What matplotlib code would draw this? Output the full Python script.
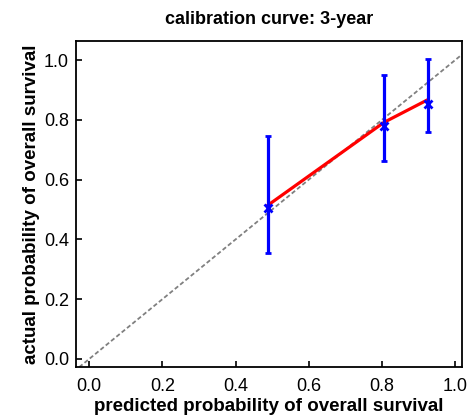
import matplotlib
matplotlib.use("Agg")
import matplotlib.pyplot as plt
import numpy as np

plt.rcParams['font.family'] = ['Liberation Sans', 'DejaVu Sans']

# calibration points (3-year)
predicted = [0.489, 0.806, 0.926]
observed_line = [0.515, 0.792, 0.868]
observed = [0.505, 0.779, 0.855]
ci_upper = [0.747, 0.949, 1.003]
ci_lower = [0.354, 0.661, 0.759]

fig = plt.figure(figsize=(4.73, 4.19), dpi=100)
ax = fig.add_axes([0.1607, 0.124, 0.816, 0.778])

# ideal line
ax.plot([-0.1, 1.1], [-0.1, 1.1], color="gray", linestyle=(0, (2.4, 1.4)), linewidth=1.3, zorder=1)

# calibration curve
ax.plot(predicted, observed_line, color="red", linewidth=2.3, zorder=2)

# error bars
obs = np.array(observed)
yerr = [obs - np.array(ci_lower), np.array(ci_upper) - obs]
ax.errorbar(predicted, observed, yerr=yerr, fmt="x", color="blue", ecolor="blue",
            elinewidth=2.3, capsize=2.5, capthick=2.3, markersize=6, markeredgewidth=2, zorder=3)

ax.set_xlim(-0.036, 1.019)
ax.set_ylim(-0.027, 1.064)
ax.set_xticks([0.0, 0.2, 0.4, 0.6, 0.8, 1.0])
ax.set_yticks([0.0, 0.2, 0.4, 0.6, 0.8, 1.0])
ax.set_xticklabels(["0.0", "0.2", "0.4", "0.6", "0.8", "1.0"])
ax.set_yticklabels(["0.0", "0.2", "0.4", "0.6", "0.8", "1.0"])
ax.tick_params(direction="in", length=4, width=1.2, labelsize=13)
ax.tick_params(axis="x", pad=8)
ax.tick_params(axis="y", pad=5)
for s in ax.spines.values():
    s.set_linewidth(1.3)

ax.set_xlabel("predicted probability of overall survival", fontsize=13.5, fontweight="bold", labelpad=2)
ax.set_ylabel("actual probability of overall survival", fontsize=13.5, fontweight="bold", labelpad=3)
ax.set_title("calibration curve: 3-year", fontsize=13, fontweight="bold", pad=12)

fig.savefig("out.png", dpi=100)
